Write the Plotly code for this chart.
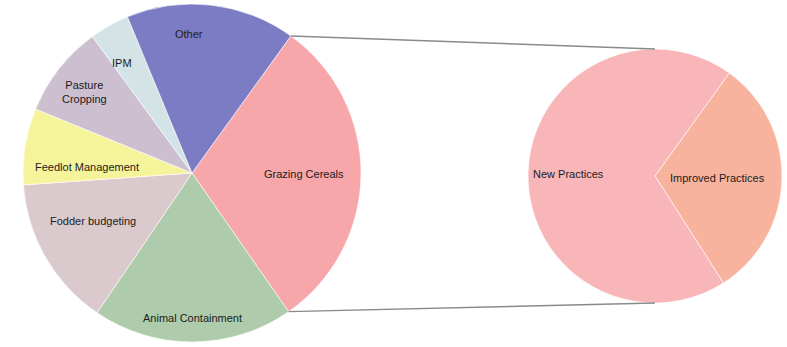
import numpy as np
import plotly.graph_objects as go

# data (shares in %)
main_labels = ['Grazing Cereals', 'Animal Containment', 'Fodder budgeting',
               'Feedlot Management', 'Pasture<br>Cropping', 'IPM', 'Other']
main_values = [30.4, 19.2, 14.4, 7.3, 8.8, 3.8, 16.2]
main_colors = ['#f7a6a9', '#aecbab', '#dac9cd', '#f6f49a', '#cbbfd0', '#d3e3e6', '#7c7cc4']

sub_labels = ['Improved Practices', 'New Practices']
sub_values = [31, 69]
sub_colors = ['#f8b39f', '#f8b6b9']

W, H = 787, 347
START = 35.8  # first slice (Grazing Cereals) starts here, clockwise from 12 o'clock

# pie geometry in pixels: centre x, centre y, radius
MAIN = (192, 173, 169)
SUB = (655, 176, 127)


def _domain(c):
    cx, cy, r = c
    return {'x': [(cx - r) / W, (cx + r) / W], 'y': [1 - (cy + r) / H, 1 - (cy - r) / H]}


def _point(c, angle, frac=1.0):
    '''Paper coords of a point at clockwise angle (deg from 12 o'clock).'''
    cx, cy, r = c
    a = np.radians(angle)
    return (cx + frac * r * np.sin(a)) / W, 1 - (cy - frac * r * np.cos(a)) / H


def _labels(c, labels, values, start, fracs, shifts):
    '''Annotations placed on each slice's mid-angle.'''
    total = sum(values)
    edges = start + 360 * np.concatenate([[0], np.cumsum(values)]) / total
    out = []
    for i, lab in enumerate(labels):
        mid = (edges[i] + edges[i + 1]) / 2 + shifts[i]
        x, y = _point(c, mid, fracs[i])
        out.append(dict(x=x, y=y, xref='paper', yref='paper', text=lab, showarrow=False,
                        xanchor='center', yanchor='middle',
                        font=dict(family='Liberation Sans, Arial, sans-serif', size=11, color='#1c1c1c')))
    return out, edges


fig = go.Figure()
fig.add_trace(go.Pie(
    labels=main_labels, values=main_values, sort=False, direction='clockwise',
    rotation=START, textinfo='none', hoverinfo='label+percent',
    marker=dict(colors=main_colors, line=dict(color='#ffffff', width=0.6)),
    domain=_domain(MAIN),
))
fig.add_trace(go.Pie(
    labels=sub_labels, values=sub_values, sort=False, direction='clockwise',
    rotation=START, textinfo='none', hoverinfo='label+percent',
    marker=dict(colors=sub_colors, line=dict(color='#ffffff', width=0.6)),
    domain=_domain(SUB),
))

mainAnn, mainEdges = _labels(MAIN, main_labels, main_values, START,
                             [0.66, 0.86, 0.65, 0.62, 0.80, 0.77, 0.82],
                             [0, 0, 4, -6, -1, -3, -8])
subAnn, _ = _labels(SUB, sub_labels, sub_values, START, [0.49, 0.68], [0, 0])

# connector lines from the Grazing Cereals slice to the top and bottom of the second pie
x0, y0 = _point(MAIN, mainEdges[0])
x1, y1 = _point(MAIN, mainEdges[1])
tx, ty = _point(SUB, 0)
bx, by = _point(SUB, 180)
line = dict(color='#8a8a8a', width=1.4)
shapes = [
    dict(type='line', xref='paper', yref='paper', x0=x0, y0=y0, x1=tx, y1=ty, line=line),
    dict(type='line', xref='paper', yref='paper', x0=x1, y0=y1, x1=bx, y1=by, line=line),
]

fig.update_layout(
    width=W, height=H, margin=dict(l=0, r=0, t=0, b=0),
    paper_bgcolor='white', plot_bgcolor='white', showlegend=False,
    annotations=mainAnn + subAnn, shapes=shapes,
)
fig.write_html('out.html', config={'displayModeBar': False},
               post_script="document.body.style.margin='0';")
